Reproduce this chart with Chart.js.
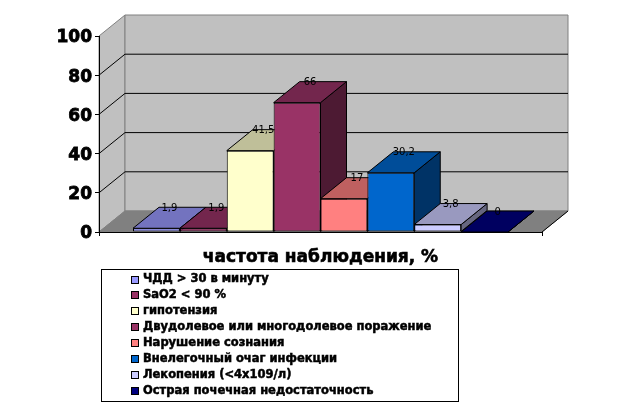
<!DOCTYPE html>
<html>
<head>
<meta charset="utf-8">
<style>
  html, body { margin: 0; padding: 0; background: #fff; }
  canvas { display: block; }
</style>
<script src="https://cdn.jsdelivr.net/npm/chart.js@4"></script>
</head>
<body>
<canvas id="myChart" width="621" height="406"></canvas>
<script>
const categories = ["частота наблюдения, %"];
const seriesLabels = [
  "ЧДД > 30 в минуту",
  "SaO2 < 90 %",
  "гипотензия",
  "Двудолевое или многодолевое поражение",
  "Нарушение сознания",
  "Внелегочный очаг инфекции",
  "Лекопения (<4х109/л)",
  "Острая почечная недостаточность",
];
const seriesValues = [1.9, 1.9, 41.5, 66, 17, 30.2, 3.8, 0];
const seriesColors = ["#9999FF", "#993366", "#FFFFCC", "#993366", "#FF8080", "#0066CC", "#CCCCFF", "#000080"];

const depthX = 26;
const depthY = 21;

const shade = (hex, f) => {
  const n = parseInt(hex.slice(1), 16);
  const r = Math.round((n >> 16) * f);
  const g = Math.round(((n >> 8) & 255) * f);
  const b = Math.round((n & 255) * f);
  return `rgb(${r},${g},${b})`;
};

const poly = (ctx, pts, fill, stroke) => {
  ctx.beginPath();
  pts.forEach((p, i) => (i ? ctx.lineTo(p[0], p[1]) : ctx.moveTo(p[0], p[1])));
  ctx.closePath();
  ctx.fillStyle = fill;
  ctx.fill();
  ctx.strokeStyle = stroke;
  ctx.lineWidth = 1;
  ctx.stroke();
};

//Walls and floor behind the bars
const walls = {
  id: "walls",
  beforeDraw(chart) {
    const { ctx, chartArea: a, scales } = chart;
    const dx = depthX, dy = depthY;
    ctx.save();
    poly(ctx, [[a.left, a.top], [a.left + dx, a.top - dy], [a.left + dx, a.bottom - dy], [a.left, a.bottom]], "#C0C0C0", "#808080");
    poly(ctx, [[a.left + dx, a.top - dy], [a.right + dx, a.top - dy], [a.right + dx, a.bottom - dy], [a.left + dx, a.bottom - dy]], "#C0C0C0", "#808080");
    poly(ctx, [[a.left, a.bottom], [a.left + dx, a.bottom - dy], [a.right + dx, a.bottom - dy], [a.right, a.bottom]], "#808080", "#808080");
    ctx.strokeStyle = "#000";
    ctx.beginPath();
    scales.y.ticks.forEach((t) => {
      if (t.value === 0 || t.value === 100) return;
      const y = scales.y.getPixelForValue(t.value);
      ctx.moveTo(a.left, y);
      ctx.lineTo(a.left + dx, y - dy);
      ctx.lineTo(a.right + dx, y - dy);
    });
    ctx.moveTo(a.right, a.bottom);
    ctx.lineTo(a.right + dx, a.bottom - dy);
    ctx.stroke();
    ctx.restore();
  },
};

//Bars are painted left to right so each one hides the side of the one before it
const bars3d = {
  id: "bars3d",
  beforeDatasetsDraw(chart) {
    const ctx = chart.ctx;
    const dx = depthX, dy = depthY;
    seriesValues.forEach((value, i) => {
      const meta = chart.getDatasetMeta(i);
      const bar = meta.data[0];
      const color = seriesColors[i];
      const l = bar.x - bar.width / 2, r = bar.x + bar.width / 2;
      const t = bar.y, b = bar.base;
      ctx.save();
      poly(ctx, [[r, t], [r + dx, t - dy], [r + dx, b - dy], [r, b]], shade(color, 0.5), "#000");
      poly(ctx, [[l, t], [l + dx, t - dy], [r + dx, t - dy], [r, t]], shade(color, 0.75), "#000");
      ctx.restore();
      meta.controller.draw();
      ctx.save();
      ctx.fillStyle = "#000";
      ctx.font = "10px 'DejaVu Sans'";
      ctx.textAlign = "center";
      ctx.textBaseline = "middle";
      ctx.fillText(String(value).replace(".", ","), bar.x + dx / 2, t - dy + 1);
      ctx.restore();
    });
    return false;
  },
};

//Legend box under the chart, one entry per row
const legendBox = {
  id: "legendBox",
  afterDraw(chart) {
    const ctx = chart.ctx;
    ctx.save();
    ctx.strokeStyle = "#000";
    ctx.lineWidth = 1;
    ctx.strokeRect(101.5, 269.5, 357, 132);
    ctx.font = "bold 11.5px 'DejaVu Sans'";
    ctx.textBaseline = "middle";
    seriesLabels.forEach((label, i) => {
      const y = 279.5 + i * 15.9;
      ctx.fillStyle = seriesColors[i];
      ctx.fillRect(131.5, Math.round(y) - 3.5, 7, 7);
      ctx.strokeRect(131.5, Math.round(y) - 3.5, 7, 7);
      ctx.fillStyle = "#000";
      ctx.fillText(label, 143, y);
      ctx.lineWidth = 0.5;
      ctx.strokeText(label, 143, y);
      ctx.lineWidth = 1;
    });
    ctx.restore();
  },
};

new Chart(document.getElementById("myChart"), {
  type: "bar",
  data: {
    labels: categories,
    datasets: seriesLabels.map((label, i) => ({
      label: label,
      data: [seriesValues[i]],
      backgroundColor: seriesColors[i],
      borderColor: "#000",
      borderWidth: 1,
      borderSkipped: false,
    })),
  },
  options: {
    responsive: false,
    animation: false,
    categoryPercentage: 0.8465,
    barPercentage: 1,
    layout: { padding: { left: 0, right: 79, top: 36, bottom: 0 } },
    plugins: { legend: { display: false }, tooltip: { enabled: false } },
    scales: {
      x: {
        afterFit: (s) => { s.height = 174; },
        border: { color: "#000" },
        grid: { drawOnChartArea: false, color: "#000", tickLength: 4 },
        ticks: {
          color: "#000",
          padding: 11,
          maxRotation: 0,
          textStrokeColor: "#000",
          textStrokeWidth: 0.6,
          font: { family: "'DejaVu Sans'", size: 17, weight: "bold" },
        },
      },
      y: {
        min: 0,
        max: 100,
        afterFit: (s) => { s.width = 99; },
        border: { color: "#000" },
        grid: { drawOnChartArea: false, color: "#000", tickLength: 4 },
        ticks: {
          stepSize: 20,
          color: "#000",
          padding: 3,
          labelOffset: 2,
          textStrokeColor: "#000",
          textStrokeWidth: 0.8,
          font: { family: "'DejaVu Sans'", size: 17, weight: "bold" },
        },
      },
    },
  },
  plugins: [walls, bars3d, legendBox],
});
</script>
</body>
</html>
